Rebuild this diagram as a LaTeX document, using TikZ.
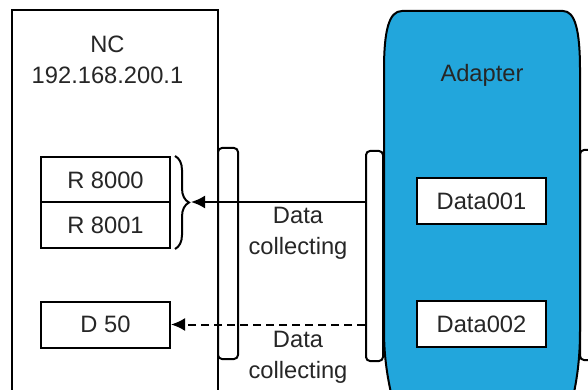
\documentclass[tikz,border=0pt]{standalone}
\usepackage{fontspec}
\setmainfont{Liberation Sans}
\usetikzlibrary{arrows.meta,decorations.pathreplacing}
\definecolor{adblue}{RGB}{34,166,220}
\definecolor{txt}{RGB}{38,38,38}
\begin{document}
\begin{tikzpicture}[x=1pt,y=-1pt, line width=2pt,
  every node/.style={font=\fontsize{23.7}{31}\selectfont, text=txt},
  regbox/.style={draw, fill=white, minimum width=129pt, minimum height=46pt, inner sep=0pt},
  barbox/.style={draw, fill=white, rounded corners=4pt, inner sep=0pt},
  arr/.style={-{Latex[length=14pt,width=13pt]}, line width=2pt}]
\useasboundingbox (0,0) rectangle (588,390);
\clip (0,0) rectangle (588,390);
% NC frame
\draw (12,410) -- (12,10) -- (218,10) -- (218,410);
\node (nc) at (107.5,44) {NC};
\node (ip) at (107.5,75) {192.168.200.1};
% bars
\node[barbox, minimum width=20pt, minimum height=211pt] (bar1) at (228,253.5) {};
\node[barbox, minimum width=17pt, minimum height=210pt] (bar2) at (374.5,256) {};
\node[barbox, minimum width=20pt, minimum height=210pt] (bar3) at (590,255) {};
% adapter
\draw[fill=adblue] (384,70) .. controls (384,30) and (389,11) .. (402,11) -- (563,11)
  .. controls (575,11) and (580,30) .. (580,70) -- (580,330)
  .. controls (580,360) and (577,382) .. (570,410) -- (395,410)
  .. controls (388,382) and (384,360) .. (384,330) -- cycle;
\node (ad) at (482,75) {Adapter};
\node[regbox] (d1) at (481.5,201) {Data001};
\node[regbox] (d2) at (481.5,324) {Data002};
% registers
\node[regbox] (r1) at (105.5,180) {R 8000};
\node[regbox] (r2) at (105.5,225) {R 8001};
\node[regbox] (d50) at (105.5,324.5) {D 50};
% brace
\draw[decorate, decoration={brace, amplitude=14pt}] ([xshift=4pt]r1.north east) -- ([xshift=4pt]r2.south east);
\coordinate (btip) at (191,202);
% arrows
\draw[arr] (bar2.west |- btip) -- (btip);
\draw[arr, dash pattern=on 8pt off 5pt] (bar2.west |- d50.east) -- (d50.east);
% labels
\node[align=center] (dc1) at (298,233) {Data\\collecting};
\node[align=center] (dc2) at (298,357) {Data\\collecting};
\end{tikzpicture}
\end{document}
